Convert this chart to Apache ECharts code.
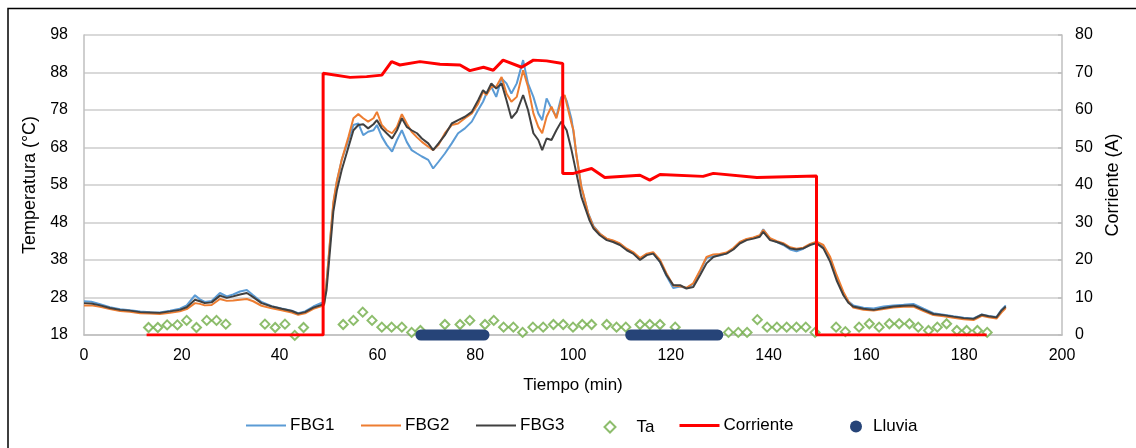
<!DOCTYPE html>
<html>
<head>
<meta charset="utf-8">
<script src="https://cdn.jsdelivr.net/npm/echarts@6/dist/echarts.min.js"></script>
<style>
  html, body { margin: 0; padding: 0; background: #fff; }
  #chart { width: 1136px; height: 448px; }
</style>
</head>
<body>
<div id="chart"></div>
<script>
// Fiber Bragg grating temperatures [min, °C]
const fbg1 = [[0,27.0],[1.5,26.9],[3.3,26.2],[5.3,25.4],[7.4,24.9],[9.4,24.6],[11.5,24.3],[13.5,24.1],[15.5,24.0],[17.6,24.5],[19.6,25.0],[21,25.9],[22.7,28.6],[23.7,27.5],[24.7,26.8],[26.1,27.1],[27.8,29.2],[29.2,28.3],[30.5,28.8],[31.9,29.6],[33.3,30.0],[34.6,28.6],[36.3,26.8],[38.4,25.7],[40.4,25.1],[42.5,24.5],[43.8,23.8],[45.2,24.3],[46.9,25.6],[48.3,26.4],[49.1,26.8],[49.6,32],[50.3,42.5],[51.0,53],[51.7,58.8],[52.7,64.7],[54.1,70],[55.1,74],[56.1,74.4],[57.1,71.3],[58.1,72.2],[59.2,72.6],[59.9,74.0],[60.9,70.9],[61.9,68.7],[63.0,66.9],[64.0,70.0],[65.0,72.6],[66.0,69.5],[67.0,67.3],[68.1,66.4],[69.1,65.6],[70.4,64.7],[71.4,62.4],[72.5,64.2],[73.8,66.4],[75.2,69.1],[76.5,71.8],[77.9,73.1],[79.3,74.9],[80.6,78.0],[81.6,80.2],[82.3,82.4],[83.3,84.2],[84.3,81.5],[85.4,86.4],[86.4,85.1],[87.4,82.4],[88.5,85.1],[89.8,91.3],[90.8,85.1],[91.9,81.5],[92.9,77.1],[93.7,75.3],[94.6,81.1],[95.6,78.4],[96.6,76.2],[97.6,81.5],[98.3,81.5],[98.7,80.5],[99.7,75.5],[100.1,72.0],[100.7,66],[101.1,62.5],[101.7,57.5],[102.1,55.5],[103.1,50.5],[104.2,47.0],[105.5,45.0],[106.9,43.6],[108.2,43.1],[109.6,42.3],[111.0,40.8],[112.3,39.9],[113.7,38.3],[115.1,39.5],[116.4,39.9],[117.8,37.5],[119.1,33.8],[120.5,30.5],[121.9,30.9],[123.2,30.5],[124.6,31.6],[126.0,35.0],[127.3,38.5],[128.7,39.0],[130.0,39.2],[131.4,39.8],[132.8,41.0],[134.1,42.6],[135.5,43.5],[136.9,43.9],[138.2,44.5],[138.9,46.2],[140.3,43.6],[141.7,42.8],[143.0,42.0],[144.4,40.8],[145.7,40.3],[147.1,41.0],[148.5,42.2],[149.8,42.6],[151.2,41.6],[152.6,38.3],[153.9,33.5],[155.3,29.0],[156.3,27.0],[157.3,25.9],[159.4,25.3],[161.5,25.1],[163.5,25.6],[165.5,25.9],[167.6,26.1],[169.6,26.3],[171.7,25.0],[173.7,23.8],[175.8,23.4],[177.8,23.0],[179.9,22.6],[181.9,22.4],[183.6,23.5],[185.0,23.1],[186.6,22.8],[187.6,24.7],[188.5,25.9]];

const fbg2 = [[0,25.9],[1.5,25.9],[3.3,25.5],[5.3,24.9],[7.4,24.4],[9.4,24.2],[11.5,23.8],[13.5,23.7],[15.5,23.6],[17.6,23.9],[19.6,24.3],[21,24.9],[22.7,26.5],[23.7,26.3],[24.7,25.9],[26.1,26.0],[27.8,27.6],[29.2,27.1],[30.5,27.2],[31.9,27.4],[33.3,27.6],[34.6,27.0],[36.3,25.8],[38.4,25.1],[40.4,24.6],[42.5,24.0],[43.8,23.4],[45.2,23.8],[46.9,25.0],[48.3,25.6],[49.1,26.0],[49.6,32],[50.3,43],[51.0,53.5],[51.7,59],[52.7,64.7],[54.1,70.9],[55.1,75.8],[56.1,76.9],[57.1,75.8],[58.1,74.9],[59.2,75.8],[59.9,77.5],[60.9,74.0],[61.9,72.6],[63.0,71.8],[64.0,73.5],[65.0,76.9],[66.0,74.4],[67.0,72.2],[68.1,70.7],[69.1,69.5],[70.4,68.2],[71.4,67.3],[72.5,68.7],[73.8,71.8],[75.2,74.0],[76.5,74.4],[77.9,75.8],[79.3,77.1],[80.6,79.7],[81.6,82.9],[82.3,82.0],[83.3,84.2],[84.3,84.2],[85.4,86.8],[86.4,82.4],[87.4,80.2],[88.5,81.5],[89.8,88.6],[90.8,84.2],[91.9,77.1],[92.9,73.5],[93.7,71.8],[94.6,76.2],[95.6,78.9],[96.6,75.8],[97.6,80.6],[98.3,82.0],[98.7,79.7],[99.7,74.4],[100.1,72.6],[100.7,66],[101.1,62.8],[101.7,57.5],[102.1,55.7],[103.1,50.4],[104.2,46.8],[105.5,45.0],[106.9,43.7],[108.2,43.2],[109.6,42.4],[111.0,41.0],[112.3,40.1],[113.7,38.5],[115.1,39.7],[116.4,40.1],[117.8,38.0],[119.1,34.5],[120.5,31.2],[121.9,31.0],[123.2,30.6],[124.6,31.8],[126.0,35.3],[127.3,38.8],[128.7,39.5],[130.0,39.6],[131.4,40.0],[132.8,41.2],[134.1,42.8],[135.5,43.6],[136.9,44.0],[138.2,44.6],[138.9,46.0],[140.3,43.8],[141.7,43.0],[143.0,42.5],[144.4,41.4],[145.7,41.0],[147.1,41.3],[148.5,42.3],[149.8,42.9],[151.2,42.0],[152.6,38.8],[153.9,34.0],[155.3,29.5],[156.3,27.0],[157.3,25.3],[159.4,24.7],[161.5,24.5],[163.5,24.9],[165.5,25.3],[167.6,25.5],[169.6,25.6],[171.7,24.4],[173.7,23.3],[175.8,23.0],[177.8,22.6],[179.9,22.2],[181.9,22.0],[183.6,23.1],[185.0,22.7],[186.6,22.4],[187.6,24.0],[188.5,25.2]];

const fbg3 = [[0,26.5],[1.5,26.4],[3.3,25.9],[5.3,25.2],[7.4,24.7],[9.4,24.5],[11.5,24.1],[13.5,24.0],[15.5,23.9],[17.6,24.3],[19.6,24.7],[21,25.4],[22.7,27.4],[23.7,27.0],[24.7,26.5],[26.1,26.7],[27.8,28.5],[29.2,27.9],[30.5,28.3],[31.9,28.8],[33.3,29.2],[34.6,28.1],[36.3,26.5],[38.4,25.6],[40.4,25.0],[42.5,24.4],[43.8,23.7],[45.2,24.1],[46.9,25.3],[48.3,25.9],[49.1,26.3],[49.6,30],[50.3,40.5],[51.0,51],[51.7,56.5],[52.7,62],[54.1,68.2],[55.1,72.6],[56.1,74],[57.1,74.2],[58.1,73.1],[59.2,74.2],[59.9,75.3],[60.9,73.1],[61.9,71.8],[63.0,70.4],[64.0,72.6],[65.0,75.8],[66.0,73.5],[67.0,72.6],[68.1,71.8],[69.1,70.4],[70.4,69.1],[71.4,67.3],[72.5,69.1],[73.8,71.3],[75.2,74.4],[76.5,75.3],[77.9,76.2],[79.3,77.5],[80.6,80.6],[81.6,83.3],[82.3,82.4],[83.3,85.1],[84.3,83.7],[85.4,85.1],[86.4,80.6],[87.4,75.8],[88.5,77.5],[89.8,82.0],[90.8,78.0],[91.9,71.8],[92.9,70.0],[93.7,67.3],[94.6,70.4],[95.6,70.0],[96.6,72.6],[97.6,74.9],[98.7,72.6],[99.7,67.3],[100.7,61.1],[101.7,54.9],[102.6,51.5],[103.4,48.5],[104.2,46.4],[105.5,44.6],[106.9,43.3],[108.2,42.8],[109.6,42.0],[111.0,40.6],[112.3,39.7],[113.7,38.0],[115.1,39.3],[116.4,39.7],[117.8,37.5],[119.1,34.0],[120.5,31.3],[121.9,31.3],[123.2,30.4],[124.6,30.8],[126.0,34.0],[127.3,37.1],[128.7,38.8],[130.0,39.3],[131.4,39.7],[132.8,40.8],[134.1,42.4],[135.5,43.3],[136.9,43.7],[138.2,44.2],[138.9,45.5],[140.3,43.3],[141.7,42.8],[143.0,42.2],[144.4,41.1],[145.7,40.8],[147.1,41.1],[148.5,42.0],[149.8,42.5],[151.2,41.1],[152.6,37.5],[153.9,32.6],[155.3,28.6],[156.3,26.6],[157.3,25.6],[159.4,25.0],[161.5,24.7],[163.5,25.2],[165.5,25.6],[167.6,25.8],[169.6,25.9],[171.7,24.7],[173.7,23.6],[175.8,23.3],[177.8,22.9],[179.9,22.5],[181.9,22.3],[183.6,23.4],[185.0,23.0],[186.6,22.7],[187.6,24.5],[188.5,25.6]];

// Ambient temperature samples [min, °C]
const ta = [[13.2,20.0],[15.1,20.0],[17.0,20.7],[19.1,20.7],[21.0,21.9],[23.0,20.0],[25.1,21.9],[27.1,21.9],[29.0,20.9],[37.0,20.9],[39.1,20.0],[41.1,20.9],[43.1,17.9],[44.9,20.0],[53.0,20.8],[55.1,21.9],[57.0,24.1],[58.9,21.9],[60.9,20.1],[62.9,20.1],[65.0,20.1],[67.0,18.7],[68.8,19.2],[73.8,20.8],[76.9,20.8],[78.9,21.9],[82.0,20.8],[83.8,21.9],[85.8,20.1],[87.8,20.1],[89.7,18.7],[91.8,20.1],[93.9,20.1],[96.0,20.8],[98.0,20.8],[100.0,20.1],[101.9,20.8],[103.8,20.8],[106.9,20.8],[108.9,20.1],[110.8,20.1],[113.7,20.8],[115.7,20.8],[117.8,20.8],[120.9,20.1],[131.8,18.7],[133.8,18.7],[135.6,18.7],[137.7,22.1],[139.7,20.1],[141.7,20.1],[143.7,20.1],[145.7,20.1],[147.6,20.1],[149.5,18.7],[153.8,20.1],[155.7,18.9],[158.5,20.1],[160.6,21.0],[162.6,20.1],[164.7,21.0],[166.7,21.0],[168.8,21.0],[170.6,20.1],[172.7,19.2],[174.5,20.1],[176.4,21.0],[178.5,19.2],[180.5,19.2],[182.7,19.2],[184.7,18.7]];

// Conductor current [min, A]
const corriente = [[12.8,0],[48.9,0],[48.9,69.8],[54.4,68.7],[57.8,68.9],[60.9,69.3],[62.9,72.9],[64.6,72.0],[68.7,72.9],[72.8,72.2],[76.9,72.0],[78.9,70.5],[81.7,71.4],[83.7,70.6],[85.7,73.3],[89.5,71.4],[91.9,73.3],[94.6,73.1],[97.9,72.4],[97.9,43.1],[100.1,43.1],[103.8,44.4],[106.5,42.0],[113.7,42.6],[115.7,41.3],[117.8,42.8],[126.6,42.3],[128.7,43.1],[137.6,42.0],[149.8,42.4],[149.8,0],[184.6,0]];

// Rain periods drawn along the base of the temperature axis [min, °C]
const lluvia = [[68.9,18],[81.8,18],'-',[111.8,18],[129.6,18]];

// Axis ranges and tick steps
const tiempoTicks = { min: 0, max: 200, step: 20 };
const tempTicks = { min: 18, max: 98, step: 10 };
const corrTicks = { min: 0, max: 80, step: 10 };

const FONT = 'Liberation Sans, Arial, sans-serif';
const TXT = '#000000';
const LEGEND_Y = 424;

const chart = echarts.init(document.getElementById('chart'), null, { renderer: 'canvas' });

// one legend block per entry so each icon can have its own shape and size
function legendAt(left, item, iconW, iconH, textPad, extra) {
  return Object.assign({
    data: [item],
    left: left,
    top: LEGEND_Y - iconH / 2,
    padding: 0,
    itemWidth: iconW,
    itemHeight: iconH,
    itemGap: 0,
    selectedMode: false,
    textStyle: { fontFamily: FONT, fontSize: 17, color: TXT, padding: [0, 0, 0, textPad] }
  }, extra || {});
}

// line entries: keep the stroke, hide the marker the line legend adds by default
const lineOnly = { itemStyle: { opacity: 0 } };

chart.setOption({
  animation: false,
  backgroundColor: '#ffffff',
  grid: { left: 84, top: 35, width: 978, height: 300, containLabel: false },
  graphic: [
    { type: 'polyline', shape: { points: [[8, 448], [8, 8.5], [1136, 8.5]] },
      style: { stroke: '#000', lineWidth: 1.5, fill: null } }
  ],
  legend: [
    legendAt(245, 'FBG1', 40, 14, -1, lineOnly),
    legendAt(360, 'FBG2', 40, 14, -1, lineOnly),
    legendAt(475, 'FBG3', 40, 14, -1, lineOnly),
    legendAt(603.5, 'Ta', 11, 11, 16),
    legendAt(678, 'Corriente', 40, 14, -1, { itemStyle: { opacity: 0 }, lineStyle: { width: 3 } }),
    legendAt(850, { name: 'Lluvia', icon: 'circle' }, 12, 12, 6)
  ],
  xAxis: {
    type: 'value',
    min: tiempoTicks.min, max: tiempoTicks.max, interval: tiempoTicks.step,
    name: 'Tiempo (min)', nameLocation: 'middle', nameGap: 42,
    nameTextStyle: { fontFamily: FONT, fontSize: 17, color: TXT },
    axisLine: { show: true, onZero: false, lineStyle: { color: '#BFBFBF', width: 1.5 } },
    axisTick: { show: false },
    splitLine: { show: false },
    axisLabel: { fontFamily: FONT, fontSize: 16, color: TXT, margin: 13 }
  },
  yAxis: [
    {
      type: 'value', position: 'left',
      min: tempTicks.min, max: tempTicks.max, interval: tempTicks.step,
      name: 'Temperatura (°C)', nameLocation: 'middle', nameGap: 44, nameRotate: 90,
      nameTextStyle: { fontFamily: FONT, fontSize: 18, color: TXT },
      axisLine: { show: true, lineStyle: { color: '#BFBFBF', width: 1.5 } },
      axisTick: { show: false },
      splitLine: { show: true, lineStyle: { color: '#D9D9D9', width: 2 } },
      axisLabel: { fontFamily: FONT, fontSize: 16, color: TXT, margin: 16 }
    },
    {
      type: 'value', position: 'right',
      min: corrTicks.min, max: corrTicks.max, interval: corrTicks.step,
      name: 'Corriente (A)', nameLocation: 'middle', nameGap: 42, nameRotate: 90,
      nameTextStyle: { fontFamily: FONT, fontSize: 18, color: TXT },
      axisLine: { show: true, lineStyle: { color: '#BFBFBF', width: 1.5 } },
      axisTick: { show: true, inside: true, length: 4, lineStyle: { color: '#BFBFBF', width: 1.5 } },
      splitLine: { show: false },
      axisLabel: { fontFamily: FONT, fontSize: 16, color: TXT, margin: 13 }
    }
  ],
  series: [
    { name: 'FBG1', type: 'line', yAxisIndex: 0, data: fbg1, symbol: 'none', color: '#5B9BD5',
      lineStyle: { width: 2, color: '#5B9BD5' }, z: 2 },
    { name: 'FBG2', type: 'line', yAxisIndex: 0, data: fbg2, symbol: 'none', color: '#ED7D31',
      lineStyle: { width: 2, color: '#ED7D31' }, z: 3 },
    { name: 'FBG3', type: 'line', yAxisIndex: 0, data: fbg3, symbol: 'none', color: '#404040',
      lineStyle: { width: 2, color: '#404040' }, z: 4 },
    { name: 'Ta', type: 'scatter', yAxisIndex: 0, data: ta, symbol: 'diamond', symbolSize: 9, clip: false,
      itemStyle: { color: '#ffffff', borderColor: '#70AD47', borderWidth: 2 }, z: 5 },
    { name: 'Corriente', type: 'line', yAxisIndex: 1, data: corriente, symbol: 'none', color: '#FF0000',
      lineStyle: { width: 3, color: '#FF0000' }, z: 6 },
    { name: 'Lluvia', type: 'line', yAxisIndex: 0, data: lluvia, symbol: 'none', color: '#264478',
      connectNulls: false, clip: false,
      lineStyle: { width: 11, color: '#264478', cap: 'round' }, z: 7 }
  ]
});
</script>
</body>
</html>
